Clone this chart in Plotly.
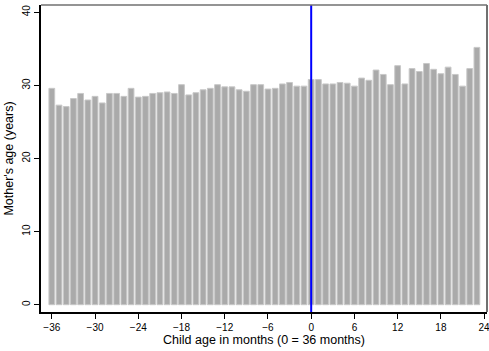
import plotly.graph_objects as go

months = list(range(-36, 24))
mother_age = [
    29.6, 27.3, 27.1, 28.2, 28.9, 28.0, 28.5, 27.6, 28.9, 28.9,
    28.5, 29.6, 28.4, 28.5, 28.9, 29.0, 29.1, 28.9, 30.1, 28.7,
    29.0, 29.4, 29.6, 30.1, 29.8, 29.8, 29.4, 29.2, 30.1, 30.1,
    29.5, 29.6, 30.2, 30.4, 29.9, 29.9, 30.8, 30.8, 30.2, 30.2,
    30.4, 30.3, 29.9, 31.0, 30.7, 32.1, 31.5, 30.1, 32.7, 30.2,
    32.3, 31.9, 33.0, 32.2, 31.6, 32.5, 31.5, 29.9, 32.3, 35.2,
]
x_ticks = [-36, -30, -24, -18, -12, -6, 0, 6, 12, 18, 24]
y_ticks = [0, 10, 20, 30, 40]
cutoff = 0

fig = go.Figure()
fig.add_trace(go.Bar(
    x=months, y=mother_age, width=0.8,
    marker=dict(color="#aaaaaa", line=dict(color="#c8c8c8", width=1)),
    showlegend=False,
))
fig.add_shape(type="line", x0=cutoff, x1=cutoff, y0=0, y1=1, yref="paper",
              line=dict(color="#0000ff", width=2))
# top and right frame in grey
fig.add_shape(type="line", xref="paper", yref="paper", x0=0, x1=1, y0=1, y1=1,
              line=dict(color="#707070", width=1.5))
fig.add_shape(type="line", xref="paper", yref="paper", x0=1, x1=1, y0=0, y1=1,
              line=dict(color="#707070", width=2))

font = dict(family="Liberation Sans, Arial, sans-serif", color="#000000")
fig.update_layout(
    width=489, height=351,
    margin=dict(l=41, r=2, t=5, b=39),
    plot_bgcolor="white", paper_bgcolor="white",
    font=dict(size=10, **font),
)
fig.update_xaxes(
    range=[-37.5, 24.4], tickvals=x_ticks, ticks="outside", ticklen=5,
    tickcolor="black", tickfont=dict(size=10, **font), ticklabeloverflow="allow",
    showline=True, linecolor="black", linewidth=1.5, mirror=False,
    showgrid=False, zeroline=False, automargin=False,
    title=dict(text="Child age in months (0 = 36 months)", font=dict(size=12.5, **font), standoff=1),
)
fig.update_yaxes(
    range=[-1, 41], tickvals=y_ticks, ticks="outside", ticklen=5,
    tickcolor="black", tickangle=-90, tickfont=dict(size=10, **font), ticklabeloverflow="allow",
    showline=True, linecolor="black", linewidth=1.5, mirror=False,
    showgrid=False, zeroline=False, automargin=False,
    title=dict(text="Mother's age (years)", font=dict(size=12.5, **font), standoff=5),
)
fig.write_html("out.html", config={"displayModeBar": False},
               post_script="document.body.style.margin='0';")
